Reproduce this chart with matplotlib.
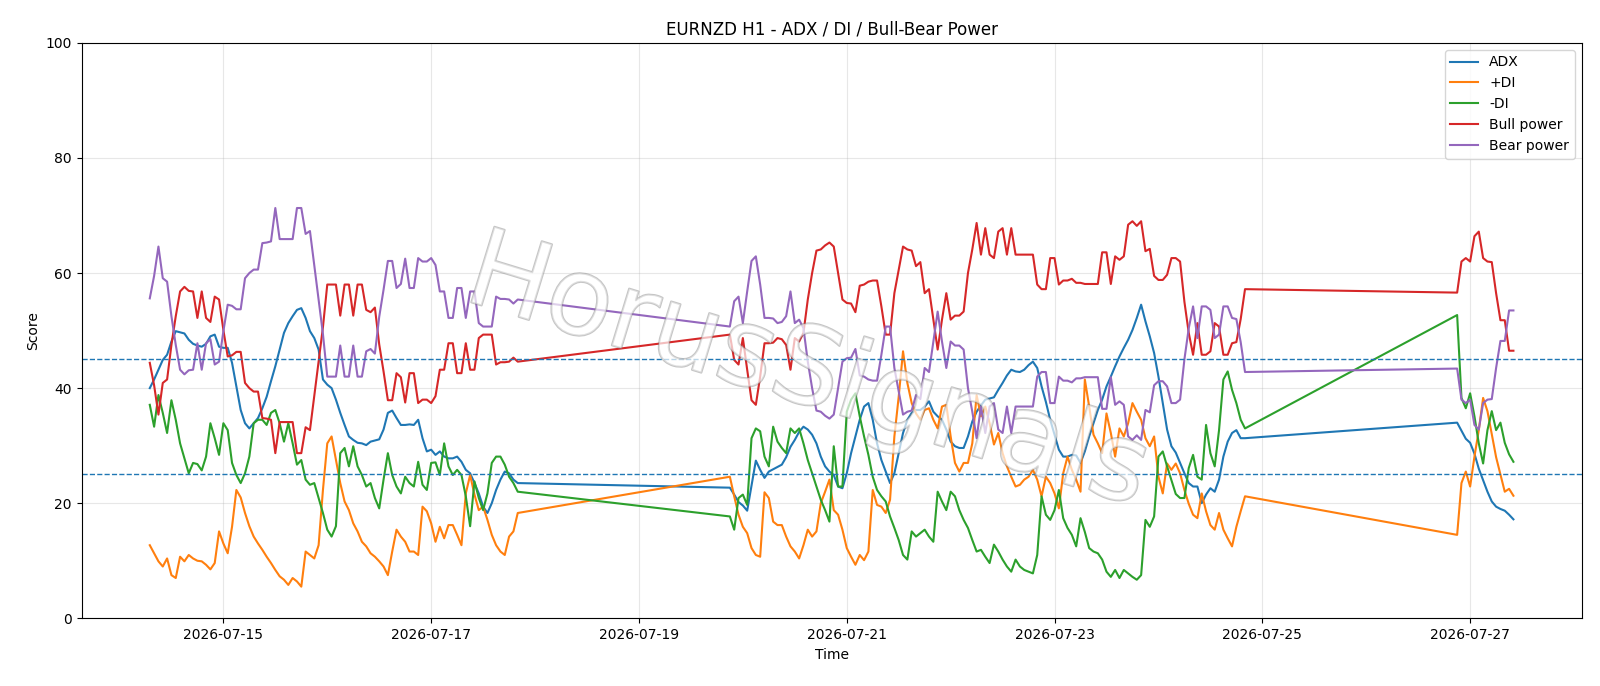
import matplotlib
matplotlib.use("Agg")
import matplotlib.pyplot as plt
import matplotlib.dates as mdates
import matplotlib.patheffects as pe
import numpy as np
import pandas as pd

title = "EURNZD H1 - ADX / DI / Bull-Bear Power"
watermark = "HorusSignals"
segment_starts = ["2026-07-14 07:00", "2026-07-19 21:00", "2026-07-26 21:00"]
segment_lengths = [86, 120, 14]
levels = [45, 25]

adx = [
    40.0, 41.5, 43.2, 44.9, 45.8, 48.1, 49.9, 49.7, 49.5, 48.4, 47.7, 47.4, 47.2, 47.7, 49.0, 49.3, 47.2, 47.0, 47.0, 44.4, 40.3, 36.2,
    33.9, 33.0, 33.9, 34.8, 36.5, 38.5, 41.2, 43.8, 46.7, 49.6, 51.3, 52.5, 53.6, 53.9, 52.2, 49.9, 48.7, 46.7, 41.5, 40.6,
    40.0, 38.0, 35.7, 33.6, 31.6, 31.0, 30.5, 30.4, 30.1, 30.7, 30.9, 31.1, 32.8, 35.7, 36.1, 34.8, 33.6, 33.6, 33.7, 33.6, 34.5, 31.3, 29.0,
    29.3, 28.4, 29.0, 28.1, 27.8, 27.8, 28.1, 27.2, 25.8, 25.2, 23.5, 21.7, 19.4, 18.3, 20.0, 22.3, 24.1, 25.5, 25.2, 24.1, 23.5,
    22.7, 21.5, 20.2, 19.6, 18.7, 23.0, 27.4, 25.8, 24.4, 25.5,
    25.9, 26.3, 26.7, 28.0, 29.8, 31.0, 32.4, 33.3, 32.8, 31.9,
    30.4, 28.1, 26.4, 25.5, 24.9, 22.9, 22.6, 25.2, 28.7, 31.6,
    34.5, 36.8, 37.4, 34.5, 30.4, 27.5, 25.5, 23.5, 25.2, 28.7,
    32.2, 34.5, 35.7, 36.2, 36.2, 36.8, 37.7, 35.9, 35.1, 34.5,
    32.8, 30.7, 29.9, 29.6, 29.6, 31.6, 34.2, 35.9, 37.0, 38.0,
    38.2, 38.4, 39.7, 40.9, 42.2, 43.2, 42.9, 42.8, 43.2, 44.0,
    44.6, 43.5, 40.3, 37.6, 34.5, 31.9, 29.3, 28.1, 28.1, 28.4,
    28.3, 27.0, 29.0, 31.6, 33.9, 36.2, 38.0, 40.3, 42.0, 43.8,
    45.5, 47.0, 48.4, 50.1, 52.2, 54.5, 51.6, 49.0, 46.1, 42.0,
    37.4, 32.8, 29.9, 28.8, 27.0, 25.2, 23.5, 22.9, 22.9, 20.0,
    21.5, 22.6, 22.0, 24.1, 28.1, 30.7, 32.2, 32.7, 31.3, 31.3,
    34.0, 32.6, 31.2, 30.5, 28.6, 26.0, 24.0, 22.0, 20.3, 19.4, 19.0, 18.7, 18.0, 17.2,
]

plus_di = [
    12.7, 11.3, 9.9, 9.0, 10.4, 7.5, 7.0, 10.7, 9.9, 11.0, 10.4, 10.0, 9.9, 9.3, 8.5, 9.6, 15.1, 13.0, 11.3, 15.9, 22.3, 21.0,
    18.3, 16.0, 14.2, 13.0, 11.9, 10.7, 9.6, 8.4, 7.3, 6.7, 5.8, 7.0, 6.4, 5.5, 11.6, 11.0, 10.4, 12.7, 22.3, 30.4,
    31.6, 27.5, 23.5, 20.3, 18.8, 16.5, 15.1, 13.3, 12.5, 11.3, 10.7, 9.9, 9.0, 7.5, 11.6, 15.4, 14.2, 13.3, 11.6, 11.6, 11.0, 19.4, 18.6,
    16.5, 13.3, 15.9, 13.9, 16.2, 16.2, 14.5, 12.7, 21.7, 24.9, 21.5, 18.8, 19.4, 17.1, 14.5, 12.7, 11.6, 11.0, 14.2, 15.1, 18.3,
    24.6, 21.2, 18.0, 15.9, 14.8, 12.2, 11.0, 10.7, 21.9, 20.9,
    16.8, 16.2, 16.2, 14.2, 12.5, 11.6, 10.4, 12.7, 15.4, 14.2,
    15.1, 20.0, 22.0, 24.1, 18.8, 18.0, 15.4, 12.2, 10.7, 9.3,
    11.0, 10.1, 11.6, 22.3, 19.7, 19.4, 18.3, 20.6, 31.6, 38.5,
    46.4, 40.9, 37.4, 35.6, 34.5, 36.2, 36.5, 34.5, 33.0, 36.8,
    37.1, 31.6, 27.0, 25.5, 27.0, 27.0, 30.4, 38.8, 35.1, 36.8,
    33.9, 30.2, 32.2, 28.7, 26.4, 24.6, 22.9, 23.2, 24.1, 24.6,
    25.8, 24.1, 21.2, 24.6, 23.5, 21.7, 19.1, 25.2, 28.1, 25.8,
    24.1, 22.0, 41.5, 36.8, 31.9, 30.4, 28.7, 35.6, 32.2, 28.1,
    33.0, 31.6, 33.9, 37.4, 35.9, 34.5, 31.3, 29.9, 31.6, 24.6,
    21.7, 26.9, 25.8, 26.9, 25.2, 22.3, 19.9, 18.0, 17.4, 21.7,
    18.6, 16.2, 15.4, 18.3, 15.4, 13.9, 12.5, 15.9, 18.6, 21.2,
    14.5, 23.5, 25.5, 22.9, 28.1, 32.7, 38.3, 36.0, 32.0, 28.0, 25.0, 22.0, 22.5, 21.3,
]

minus_di = [
    37.1, 33.3, 38.8, 35.7, 32.2, 37.9, 34.5, 30.4, 27.8, 25.2, 27.0, 26.8, 25.7, 28.1, 33.9, 31.3, 28.4, 33.9, 32.7, 27.0, 24.9, 23.5,
    25.2, 28.1, 33.9, 34.5, 34.5, 33.6, 35.7, 36.2, 33.9, 30.7, 33.9, 30.4, 26.7, 27.5, 24.1, 23.2, 23.5, 20.9, 18.3, 15.4,
    14.2, 16.0, 28.7, 29.6, 26.4, 29.9, 26.4, 24.9, 22.9, 23.5, 20.9, 19.1, 24.1, 28.7, 24.9, 22.9, 21.7, 24.6, 23.5, 22.9, 27.2, 23.2, 22.3,
    27.0, 27.1, 24.9, 30.4, 26.4, 24.9, 25.8, 24.9, 21.2, 16.0, 23.8, 20.9, 18.8, 21.7, 27.0, 28.1, 28.1, 26.7, 24.6, 23.5, 22.0,
    17.7, 15.4, 20.9, 21.5, 19.7, 31.3, 33.0, 32.5, 28.1, 26.4,
    33.3, 30.7, 29.6, 28.7, 33.0, 32.2, 33.0, 30.4, 27.5, 25.2,
    22.9, 20.6, 18.8, 16.8, 29.9, 22.9, 22.9, 35.9, 38.0, 39.1,
    35.1, 31.6, 28.4, 24.6, 22.3, 21.2, 20.3, 17.7, 15.7, 13.6,
    11.0, 10.2, 15.1, 14.2, 14.8, 15.4, 14.2, 13.3, 22.0, 20.3,
    18.8, 22.0, 21.2, 18.8, 17.1, 15.7, 13.6, 11.6, 11.9, 10.7,
    9.6, 12.8, 11.6, 10.2, 9.0, 8.1, 10.2, 9.0, 8.4, 8.1,
    7.8, 11.0, 21.2, 18.0, 17.1, 18.8, 22.3, 17.4, 15.7, 14.5,
    12.5, 17.4, 15.0, 12.2, 11.6, 11.3, 10.2, 8.1, 7.2, 8.4,
    7.0, 8.4, 7.8, 7.2, 6.7, 7.5, 17.1, 15.9, 17.7, 28.1,
    29.0, 26.4, 24.0, 21.6, 20.9, 20.9, 26.1, 28.4, 24.6, 24.1,
    33.6, 28.7, 26.4, 32.7, 41.5, 42.9, 39.7, 37.4, 34.5, 33.0,
    52.7, 38.3, 36.5, 39.1, 35.1, 30.4, 26.9, 32.7, 36.0, 32.7, 34.0, 30.5, 28.5, 27.2,
]

bull_power = [
    44.4, 40.5, 35.4, 40.9, 41.5, 47.5, 52.5, 56.8, 57.6, 56.9, 56.8, 52.2, 56.8, 52.2, 51.5, 55.9, 55.4, 50.1, 45.5, 45.7, 46.3, 46.3,
    40.9, 40.0, 39.4, 39.4, 34.8, 34.7, 34.5, 28.7, 34.1, 34.1, 34.1, 34.1, 28.7, 28.7, 33.2, 32.7, 38.7, 44.8, 50.6, 58.0,
    58.0, 58.0, 52.6, 58.0, 58.0, 52.6, 58.0, 58.0, 53.6, 53.2, 54.0, 47.6, 42.9, 37.9, 37.9, 42.6, 41.9, 37.5, 42.6, 42.6, 37.4, 38.0, 38.0,
    37.4, 38.6, 43.2, 43.2, 47.8, 47.8, 42.6, 42.6, 47.8, 43.2, 43.2, 48.7, 49.3, 49.3, 49.3, 44.1, 44.5, 44.5, 44.6, 45.3, 44.6,
    49.3, 44.9, 44.1, 48.7, 43.2, 37.9, 37.1, 42.0, 47.8, 47.8,
    47.9, 48.7, 48.5, 47.5, 43.2, 48.7, 48.1, 49.6, 55.4, 60.0,
    63.9, 64.1, 64.8, 65.3, 64.6, 60.0, 55.4, 54.8, 54.7, 53.2,
    57.8, 58.0, 58.5, 58.7, 58.7, 54.2, 49.3, 49.3, 56.5, 60.6,
    64.6, 64.1, 63.9, 61.2, 61.9, 56.5, 57.2, 51.9, 46.7, 51.9,
    56.5, 51.9, 52.6, 52.6, 53.3, 60.0, 64.1, 68.7, 63.2, 67.8,
    63.2, 62.6, 67.2, 67.8, 63.2, 67.8, 63.2, 63.2, 63.2, 63.2,
    63.2, 58.0, 57.2, 57.2, 62.6, 62.6, 58.0, 58.7, 58.7, 59.0,
    58.3, 58.3, 58.1, 58.1, 58.1, 58.1, 63.6, 63.6, 58.1, 62.9,
    62.3, 62.9, 68.4, 69.0, 68.2, 69.0, 63.8, 64.2, 59.5, 58.8,
    58.8, 59.7, 62.6, 62.6, 62.0, 55.0, 49.6, 45.8, 51.3, 45.8,
    45.8, 46.4, 51.3, 50.7, 45.8, 45.8, 47.8, 48.0, 52.0, 57.2,
    56.6, 62.0, 62.6, 62.0, 66.4, 67.2, 62.6, 62.0, 61.9, 56.5, 51.8, 51.8, 46.5, 46.5,
]

bear_power = [
    55.6, 59.5, 64.6, 59.1, 58.5, 52.5, 47.5, 43.2, 42.4, 43.1, 43.2, 47.8, 43.2, 47.8, 48.5, 44.1, 44.6, 49.9, 54.5, 54.3, 53.7, 53.7,
    59.1, 60.0, 60.6, 60.6, 65.2, 65.3, 65.5, 71.3, 65.9, 65.9, 65.9, 65.9, 71.3, 71.3, 66.8, 67.3, 61.3, 55.2, 49.4, 42.0,
    42.0, 42.0, 47.4, 42.0, 42.0, 47.4, 42.0, 42.0, 46.4, 46.8, 46.0, 52.4, 57.1, 62.1, 62.1, 57.4, 58.1, 62.5, 57.4, 57.4, 62.6, 62.0, 62.0,
    62.6, 61.4, 56.8, 56.8, 52.2, 52.2, 57.4, 57.4, 52.2, 56.8, 56.8, 51.3, 50.7, 50.7, 50.7, 55.9, 55.5, 55.5, 55.4, 54.7, 55.4,
    50.7, 55.1, 55.9, 51.3, 56.8, 62.1, 62.9, 58.0, 52.2, 52.2,
    52.1, 51.3, 51.5, 52.5, 56.8, 51.3, 51.9, 50.4, 44.6, 40.0,
    36.1, 35.9, 35.2, 34.7, 35.4, 40.0, 44.6, 45.2, 45.3, 46.8,
    42.2, 42.0, 41.5, 41.3, 41.3, 45.8, 50.7, 50.7, 43.5, 39.4,
    35.4, 35.9, 36.1, 38.8, 38.1, 43.5, 42.8, 48.1, 53.3, 48.1,
    43.5, 48.1, 47.4, 47.4, 46.7, 40.0, 35.9, 31.3, 36.8, 32.2,
    36.8, 37.4, 32.8, 32.2, 36.8, 32.2, 36.8, 36.8, 36.8, 36.8,
    36.8, 42.0, 42.8, 42.8, 37.4, 37.4, 42.0, 41.3, 41.3, 41.0,
    41.7, 41.7, 41.9, 41.9, 41.9, 41.9, 36.4, 36.4, 41.9, 37.1,
    37.7, 37.1, 31.6, 31.0, 31.8, 31.0, 36.2, 35.8, 40.5, 41.2,
    41.2, 40.3, 37.4, 37.4, 38.0, 45.0, 50.4, 54.2, 48.7, 54.2,
    54.2, 53.6, 48.7, 49.3, 54.2, 54.2, 52.2, 52.0, 48.0, 42.8,
    43.4, 38.0, 37.4, 38.0, 33.6, 32.8, 37.4, 38.0, 38.1, 43.5, 48.2, 48.2, 53.5, 53.5,
]

times = pd.DatetimeIndex(np.concatenate([
    pd.date_range(s, periods=n, freq="h").values for s, n in zip(segment_starts, segment_lengths)
]))

fig = plt.figure(figsize=(16, 6.86), dpi=100)
ax = fig.add_axes([0.051, 0.0987, 0.9375, 0.8388])

ax.plot(times, adx, label="ADX", color="tab:blue", lw=1.5)
ax.plot(times, plus_di, label="+DI", color="tab:orange", lw=1.5)
ax.plot(times, minus_di, label="-DI", color="tab:green", lw=1.5)
ax.plot(times, bull_power, label="Bull power", color="tab:red", lw=1.5)
ax.plot(times, bear_power, label="Bear power", color="tab:purple", lw=1.5)
for lv in levels:
    ax.axhline(lv, color="tab:blue", linestyle="--", lw=1)

ax.set_ylim(0, 100)
ax.set_title(title, fontsize=12)
ax.set_xlabel("Time")
ax.set_ylabel("Score")
ax.grid(True, alpha=0.3)
ax.xaxis.set_major_locator(mdates.DayLocator(bymonthday=range(1, 32, 2)))
ax.xaxis.set_major_formatter(mdates.DateFormatter("%Y-%m-%d"))
ax.legend(loc="upper right")

fig.text(0.505, 0.455, watermark, fontsize=78, color="white", alpha=0.45,
         ha="center", va="center", rotation=-17,
         path_effects=[pe.withStroke(linewidth=1.5, foreground="gray")])

fig.savefig("out.png", dpi=100)
